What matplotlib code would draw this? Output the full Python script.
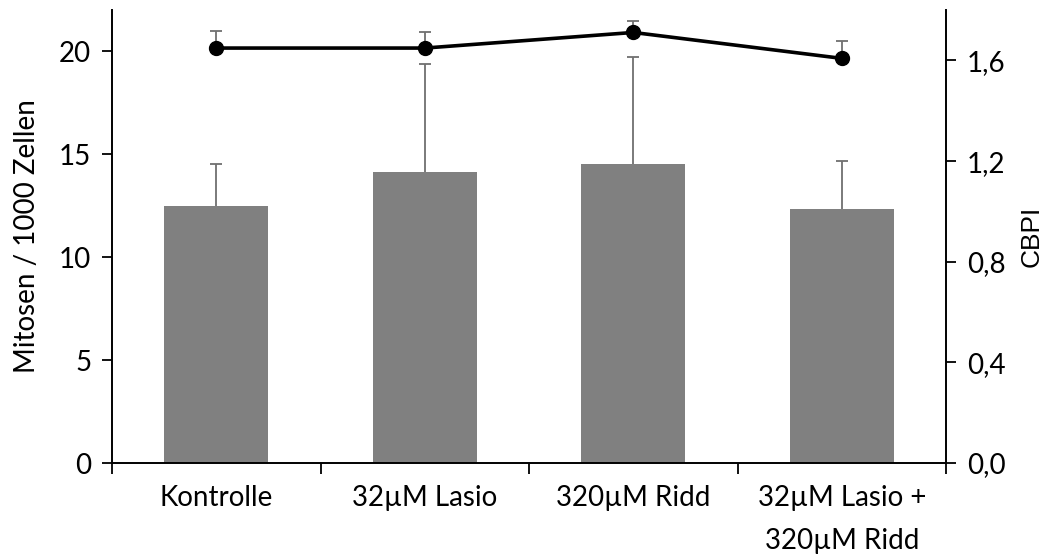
import matplotlib
matplotlib.use("Agg")
import matplotlib.pyplot as plt

plt.rcParams['font.family'] = ['Lato', 'DejaVu Sans']

categories = ["Kontrolle", "32µM Lasio", "320µM Ridd", "32µM Lasio +\n320µM Ridd"]
mitosen = [12.48, 14.13, 14.51, 12.33]
mitosen_err = [2.03, 5.24, 5.19, 2.33]
cbpi = [1.649, 1.649, 1.711, 1.608]
cbpi_err = [0.066, 0.062, 0.044, 0.068]

left_ticks = [0, 5, 10, 15, 20]
right_ticks = [0.0, 0.4, 0.8, 1.2, 1.6]
right_labels = ["0,0", "0,4", "0,8", "1,2", "1,6"]

FS = 20
ERR_COLOR = '#707070'

fig = plt.figure(figsize=(10.6, 5.59), dpi=100)
ax = fig.add_axes([0.1057, 0.1717, 0.7868, 0.8103])
ax2 = ax.twinx()

x = list(range(len(categories)))

# bars with upper error only
ax.bar(x, mitosen, width=0.5, color='#808080', zorder=2)
tops = [m + e for m, e in zip(mitosen, mitosen_err)]
ax.vlines(x, mitosen, tops, color=ERR_COLOR, linewidth=1.3, zorder=3)
ax.plot(x, tops, linestyle='none', marker='_', markersize=9,
        markeredgewidth=1.3, color=ERR_COLOR, zorder=3)

# CBPI line on secondary axis, upper error only
ctops = [c + e for c, e in zip(cbpi, cbpi_err)]
ax2.vlines(x, cbpi, ctops, color=ERR_COLOR, linewidth=1.3, zorder=2)
ax2.plot(x, ctops, linestyle='none', marker='_', markersize=9,
         markeredgewidth=1.3, color=ERR_COLOR, zorder=2)
ax2.plot(x, cbpi, color='black', linewidth=2.6, marker='o', markersize=10, zorder=3)

ax.set_xlim(-0.5, len(x) - 0.5)
ax.set_ylim(0, 22)
ax2.set_ylim(0, 1.8)

ax.set_yticks(left_ticks)
ax2.set_yticks(right_ticks)
ax2.set_yticklabels(right_labels)

# category labels centered, ticks at the boundaries
ax.set_xticks(x)
ax.set_xticklabels(categories, fontsize=FS, linespacing=1.8)
ax.tick_params(axis='x', which='major', length=0, pad=16)
ax.set_xticks([i - 0.5 for i in range(len(x) + 1)], minor=True)
ax.tick_params(axis='x', which='minor', length=8, width=1.3, direction='out')

ax.tick_params(axis='y', labelsize=FS, length=7, width=1.3, pad=8)
ax2.tick_params(axis='y', labelsize=FS, length=7, width=1.3, pad=8)

ax.set_ylabel('Mitosen / 1000 Zellen', fontsize=FS, labelpad=14)
ax2.set_ylabel('CBPI', fontsize=19, rotation=90, labelpad=10,
               family=['Liberation Sans', 'DejaVu Sans'])

for a in (ax, ax2):
    a.spines['top'].set_visible(False)
    for s in ('left', 'right', 'bottom'):
        a.spines[s].set_linewidth(1.4)
ax.spines['right'].set_visible(False)
ax2.spines['left'].set_visible(False)
ax2.spines['bottom'].set_visible(False)

fig.savefig('out.png', dpi=100)
